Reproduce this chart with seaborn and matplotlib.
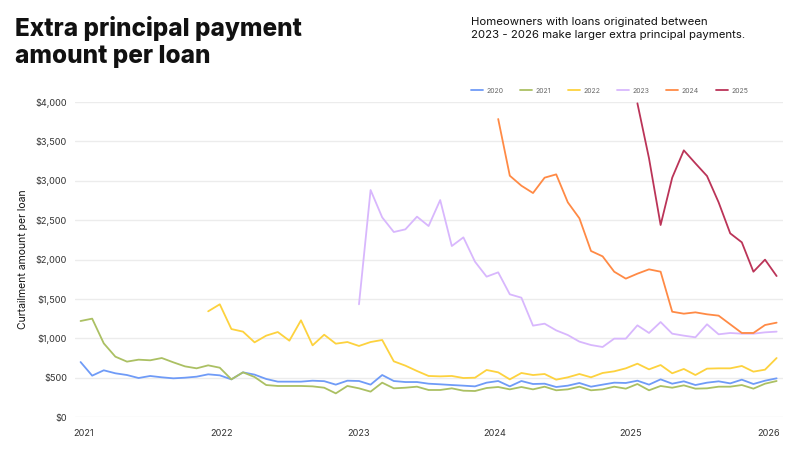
import numpy as np
import pandas as pd
import seaborn as sns
import matplotlib.pyplot as plt

sns.set_theme(style="white")
plt.rcParams['font.family'] = ['Inter', 'DejaVu Sans']

# month index 0 = Jan 2021, 60 = Jan 2026
cohorts = ['2020', '2021', '2022', '2023', '2024', '2025']
start_month = [0, 0, 11, 24, 36, 48]

y2020 = [698, 525, 593, 555, 533, 495, 521, 504, 491, 499, 512, 542, 529, 478, 567, 538,
         483, 449, 449, 449, 461, 455, 411, 461, 457, 411, 533, 457, 444, 444, 423, 415,
         406, 398, 389, 436,
         457, 389, 457, 419, 423, 381, 398, 432, 385, 411, 436, 432, 461, 411, 478, 423,
         453, 406, 436, 453, 427, 474, 419, 461, 491]
y2021 = [1219, 1249, 935, 766, 703, 728, 720, 749, 694, 643, 618, 656, 626, 478, 567, 508,
         406, 394, 394, 394, 389, 372, 300, 394, 364, 322, 436, 364, 372, 385, 343, 343,
         364, 334, 330, 368,
         381, 351, 381, 351, 385, 339, 351, 385, 339, 351, 385, 360, 419, 339, 394, 372,
         402, 360, 364, 385, 385, 406, 360, 423, 457]
y2022 = [1342, 1431, 1117, 1084, 948,
         1033, 1079, 969, 1228, 910, 1045, 931, 952, 902, 952, 978, 707, 652, 584, 521, 516,
         521, 495, 499,
         597, 567, 478, 559, 533, 546, 474, 504, 546, 504, 559, 580, 618, 677, 605, 660,
         555, 610, 533, 614, 618, 618, 648, 576, 601, 749]
y2023 = [1431, 2882, 2535, 2349, 2383, 2544, 2425, 2755, 2171, 2281, 1972, 1782, 1837, 1558,
         1515, 1160, 1185, 1100, 1041, 957, 914, 889, 995, 995, 1164, 1067, 1206, 1058,
         1033, 1012, 1177, 1050, 1067, 1058, 1058, 1075, 1084]
y2024 = [3784, 3064, 2937, 2844, 3039, 3081, 2726, 2523, 2108, 2040, 1845, 1757, 1820,
         1875, 1845, 1337, 1312, 1329, 1304, 1287, 1177, 1067, 1067, 1168, 1198]
y2025 = [3983, 3285, 2438, 3039, 3386, 3221, 3060, 2726, 2332, 2218, 1845, 1998, 1790]

series = [y2020, y2021, y2022, y2023, y2024, y2025]
colors = ['#6f9bf7', '#abc063', '#fdd23e', '#d8b7fd', '#ff8a45', '#bb3458']

year_labels = ['2021', '2022', '2023', '2024', '2025', '2026']
year_pos = [0.3, 12.2, 24.0, 35.7, 47.4, 59.3]
yticks = [0, 500, 1000, 1500, 2000, 2500, 3000, 3500, 4000]

rows = []
for name, s0, vals in zip(cohorts, start_month, series):
    for k, v in enumerate(vals):
        rows.append((s0 + k, v, name))
df = pd.DataFrame(rows, columns=['month', 'amount', 'cohort'])

fig = plt.figure(figsize=(8, 4.5), dpi=100)
ax = fig.add_axes([75 / 800, 33 / 450, 708 / 800, 315 / 450])

sns.lineplot(data=df, x='month', y='amount', hue='cohort', palette=dict(zip(cohorts, colors)),
             estimator=None, sort=False, linewidth=1.3, ax=ax, clip_on=False)

ax.set_xlim(-0.48, 60.55)
ax.set_ylim(0, 4000)
ax.set_yticks(yticks)
ax.set_yticklabels(['$' + format(v, ',') for v in yticks])
ax.set_xticks(year_pos)
ax.set_xticklabels(year_labels)
ax.tick_params(axis='both', length=0, labelsize=6.6, colors='#333333')
ax.tick_params(axis='y', pad=5.8)
ax.tick_params(axis='x', pad=9)
ax.grid(axis='y', color='#ececec', linewidth=1)
ax.set_axisbelow(True)
for sp in ax.spines.values():
    sp.set_visible(False)
ax.set_xlabel('')
ax.set_ylabel('Curtailment amount per loan', fontsize=7.5, color='#111111')
ax.yaxis.set_label_coords(-0.066, 0.5)

leg = ax.legend(loc='center left', bbox_to_anchor=(0.559, 1.036), ncol=6, frameon=False,
                fontsize=5, handlelength=1.75, handletextpad=0.5, columnspacing=2.4,
                borderpad=0, borderaxespad=0)
for t in leg.get_texts():
    t.set_color('#666666')

fig.text(15 / 800, 1 - 16 / 450, 'Extra principal payment\namount per loan', fontsize=17.5,
         fontweight='heavy', va='top', ha='left', color='#111111', linespacing=1.22)
fig.text(471 / 800, 1 - 17 / 450,
         'Homeowners with loans originated between\n2023 - 2026 make larger extra principal payments.',
         fontsize=8.2, va='top', ha='left', color='#111111', linespacing=1.35)

fig.savefig('out.png', dpi=100)
